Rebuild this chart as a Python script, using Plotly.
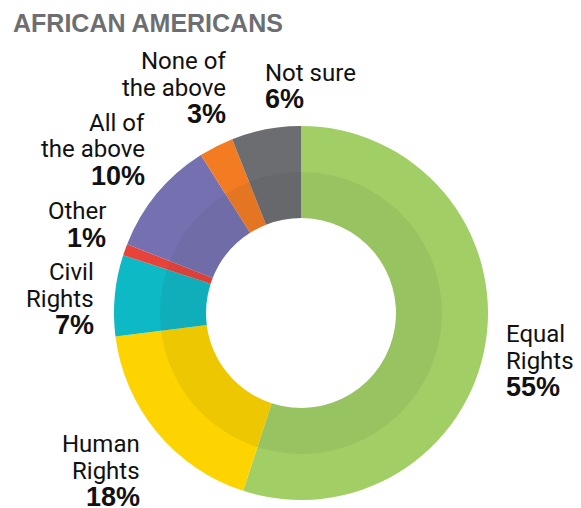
import plotly.graph_objects as go

# Survey answers, clockwise from 12 o'clock
categories = ["Equal Rights", "Human Rights", "Civil Rights", "Other",
              "All of the above", "None of the above", "Not sure"]
label_lines = [["Equal", "Rights"], ["Human", "Rights"], ["Civil", "Rights"],
               ["Other"], ["All of", "the above"], ["None of", "the above"],
               ["Not sure"]]
shares = [55, 18, 7, 1, 10, 3, 6]
colors = ["#A1CF66", "#FDD300", "#0DB9C5", "#E8433B", "#7571B1", "#F37B22", "#6C6D71"]

W, H = 581, 508
CX, CY = 301, 313          # ring centre in px
R_OUT, R_BAND, R_HOLE = 187, 141, 95

# label placement: (x px, anchor, y px of first line centre)
label_pos = [(504, "left", 334), (142, "right", 444), (96, "right", 272),
             (108, "right", 211), (147, "right", 123), (228, "right", 61),
             (263, "left", 73)]
LINE = 26.5


def domain(r):
    return dict(x=[(CX - r) / W, (CX + r) / W],
                y=[1 - (CY + r) / H, 1 - (CY - r) / H])


fig = go.Figure()
fig.add_trace(go.Pie(
    values=shares, labels=categories, sort=False, direction="clockwise",
    rotation=0, hole=R_HOLE / R_OUT, domain=domain(R_OUT),
    marker=dict(colors=colors, line=dict(width=0)),
    textinfo="none", hoverinfo="label+percent", showlegend=False))
# darker inner band
fig.add_trace(go.Pie(
    values=shares, labels=categories, sort=False, direction="clockwise",
    rotation=0, hole=R_HOLE / R_BAND, domain=domain(R_BAND),
    marker=dict(colors=["rgba(40,40,40,0.07)"] * len(shares), line=dict(width=0)),
    textinfo="none", hoverinfo="skip", showlegend=False))

name_font = dict(family="Roboto, sans-serif", size=24, color="#111111")
pct_font = dict(family="Liberation Sans, Arial, sans-serif", size=27, color="#111111")

for lines, v, (x, anchor, y0) in zip(label_lines, shares, label_pos):
    texts = [(t, name_font) for t in lines] + [(f"<b>{v}%</b>", pct_font)]
    for i, (t, f) in enumerate(texts):
        fig.add_annotation(x=x / W, y=1 - (y0 + i * LINE) / H, xref="paper", yref="paper",
                           text=t, showarrow=False, xanchor=anchor, yanchor="middle",
                           font=f)

fig.add_annotation(x=11 / W, y=1 - 23 / H, xref="paper", yref="paper",
                   text="<b>AFRICAN AMERICANS</b>", showarrow=False,
                   xanchor="left", yanchor="middle",
                   font=dict(family="Liberation Sans, Arial, sans-serif", size=25, color="#6D6E71"))

fig.update_layout(width=W, height=H, margin=dict(l=0, r=0, t=0, b=0),
                  paper_bgcolor="white", plot_bgcolor="white")
fig.write_html("out.html")
